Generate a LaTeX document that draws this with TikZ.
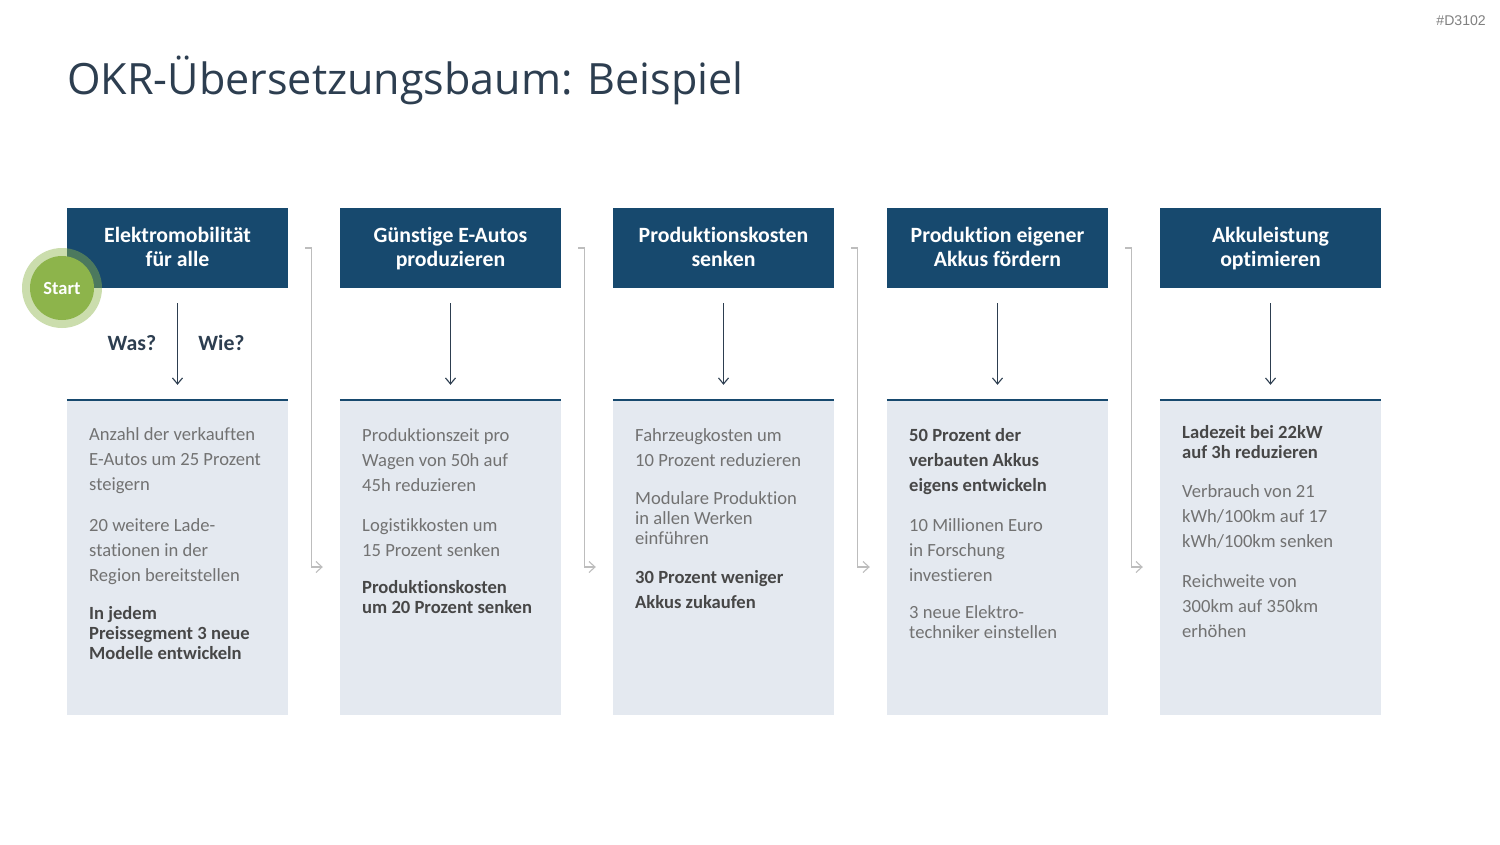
\documentclass[tikz,border=0pt]{standalone}
\usepackage{fontspec}
\setmainfont{Carlito}[Ligatures=NoCommon]
\newfontfamily\titlefont{Open Sans}
\newfontfamily\tagfont{Liberation Sans}
\usetikzlibrary{arrows.meta,calc}
\definecolor{hblue}{HTML}{17496E}
\definecolor{bodyfill}{HTML}{E4E9F0}
\definecolor{titlecol}{HTML}{2D3E50}
\definecolor{regcol}{HTML}{727272}
\definecolor{boldcol}{HTML}{474747}
\definecolor{conncol}{HTML}{BDBDBD}
\definecolor{startgreen}{HTML}{8DB44B}
\newcommand{\mypara}[3]{\parbox[t]{215pt}{\raggedright\fontsize{#1}{#2}\selectfont #3}}
\newcommand{\myhead}[1]{\parbox[t]{218pt}{\centering\fontsize{21.8}{23.6}\selectfont\bfseries #1}}
\tikzset{
  hbox/.style={rectangle, fill=hblue, minimum width=221pt, minimum height=80pt, inner sep=0pt},
  bbox/.style={rectangle, fill=bodyfill, minimum width=221pt, minimum height=315pt, inner sep=0pt},
  topline/.style={draw=hblue, line width=1.8pt},
  htext/.style={text=white, inner sep=0pt, anchor=base},
  ptext/.style={text=regcol, inner sep=0pt, anchor=base west},
  btext/.style={text=boldcol, inner sep=0pt, anchor=base west, font=\bfseries},
  downarrow/.style={draw=titlecol, line width=1.1pt, -{Straight Barb[length=6pt,width=10pt]}},
  connector/.style={draw=conncol, line width=1.1pt, -{Straight Barb[length=6pt,width=11pt]}},
  wtext/.style={text=titlecol, font=\bfseries\fontsize{21.8}{24}\selectfont, inner sep=0pt, anchor=base},
}
\begin{document}
\begin{tikzpicture}[x=1pt,y=-1pt]
\useasboundingbox[fill=white] (0,0) rectangle (1500,844);

% title and tag
\node[anchor=base west, inner sep=0pt, text=titlecol, font=\titlefont\fontsize{43.1}{50}\selectfont] (title) at (67,94) {OKR-Übersetzungsbaum: Beispiel};
\node[anchor=base east, inner sep=0pt, text=gray, font=\tagfont\fontsize{14.1}{16}\selectfont] (tag) at (1486,25) {\#D3102};

% columns
\foreach \i/\cx in {1/177.5, 2/450.5, 3/723.5, 4/997.5, 5/1270.5}{
  \node[hbox] (h\i) at (\cx,248) {};
  \node[bbox] (b\i) at (\cx,557.5) {};
  \draw[topline] (b\i.north west) -- (b\i.north east);
  \draw[downarrow] ($(h\i.south)+(0,15)$) -- ($(b\i.north)+(0,-15)$);
}

% header texts
\node[htext] (t1) at (177.5,242.5) {\myhead{Elektromobilität\\für alle}};
\node[htext] (t2) at (450.5,242.5) {\myhead{Günstige E-Autos\\produzieren}};
\node[htext] (t3) at (723.5,242.5) {\myhead{Produktionskosten\\senken}};
\node[htext] (t4) at (997.5,242.5) {\myhead{Produktion eigener\\Akkus fördern}};
\node[htext] (t5) at (1270.5,242.5) {\myhead{Akkuleistung\\optimieren}};

% connectors between columns
\foreach \i/\j in {1/2, 2/3, 3/4, 4/5}{
  \coordinate (k\i s) at ($(h\i.east)+(17,0)$);
  \coordinate (k\i m) at ($(h\i.east)+(23,0)$);
  \coordinate (k\i e) at ($(b\j.west)+(-17,9.5)$);
  \draw[connector] (k\i s) -- (k\i m) |- (k\i e);
}

% start circle
\fill[startgreen, opacity=0.45] (62,288) circle (40pt);
\fill[startgreen] (62,288) circle (32pt);
\node[text=white, font=\bfseries\fontsize{18.5}{20}\selectfont, inner sep=0pt] (start) at (62,288) {Start};

% Was? Wie?
\node[wtext] (was) at (132,350) {Was?};
\node[wtext] (wie) at (221.5,350) {Wie?};

% column 1
\node[ptext] (c1p1) at (89,440.5) {\mypara{18.6}{25}{Anzahl der verkauften\\E-Autos um 25 Prozent\\steigern}};
\node[ptext] (c1p2) at (89,531.5) {\mypara{18.6}{25}{20 weitere Lade-\\stationen in der\\Region bereitstellen}};
\node[btext] (c1p3) at (89,619) {\mypara{18.6}{20}{\bfseries In jedem\\Preissegment 3 neue\\Modelle entwickeln}};

% column 2
\node[ptext] (c2p1) at (362,441.5) {\mypara{18.6}{25}{Produktionszeit pro\\Wagen von 50h auf\\45h reduzieren}};
\node[ptext] (c2p2) at (362,531.5) {\mypara{18.6}{25}{Logistikkosten um\\15 Prozent senken}};
\node[btext] (c2p3) at (362,593.5) {\mypara{18.6}{20}{\bfseries Produktionskosten\\um 20 Prozent senken}};

% column 3
\node[ptext] (c3p1) at (635,441.5) {\mypara{18.6}{25}{Fahrzeugkosten um\\10 Prozent reduzieren}};
\node[ptext] (c3p2) at (635,504) {\mypara{18.6}{20}{Modulare Produktion\\in allen Werken\\einführen}};
\node[btext] (c3p3) at (635,583.5) {\mypara{18.6}{25}{\bfseries 30 Prozent weniger\\Akkus zukaufen}};

% column 4
\node[btext] (c4p1) at (909,441.5) {\mypara{18.6}{25}{\bfseries 50 Prozent der\\verbauten Akkus\\eigens entwickeln}};
\node[ptext] (c4p2) at (909,531.5) {\mypara{18.6}{25}{10 Millionen Euro\\in Forschung\\investieren}};
\node[ptext] (c4p3) at (909,618.5) {\mypara{18.6}{20}{3 neue Elektro-\\techniker einstellen}};

% column 5
\node[btext] (c5p1) at (1182,438.5) {\mypara{18.6}{20}{\bfseries Ladezeit bei 22kW\\auf 3h reduzieren}};
\node[ptext] (c5p2) at (1182,497.5) {\mypara{18.6}{25}{Verbrauch von 21\\kWh/100km auf 17\\kWh/100km senken}};
\node[ptext] (c5p3) at (1182,587.5) {\mypara{18.6}{25}{Reichweite von\\300km auf 350km\\erhöhen}};
\end{tikzpicture}
\end{document}
